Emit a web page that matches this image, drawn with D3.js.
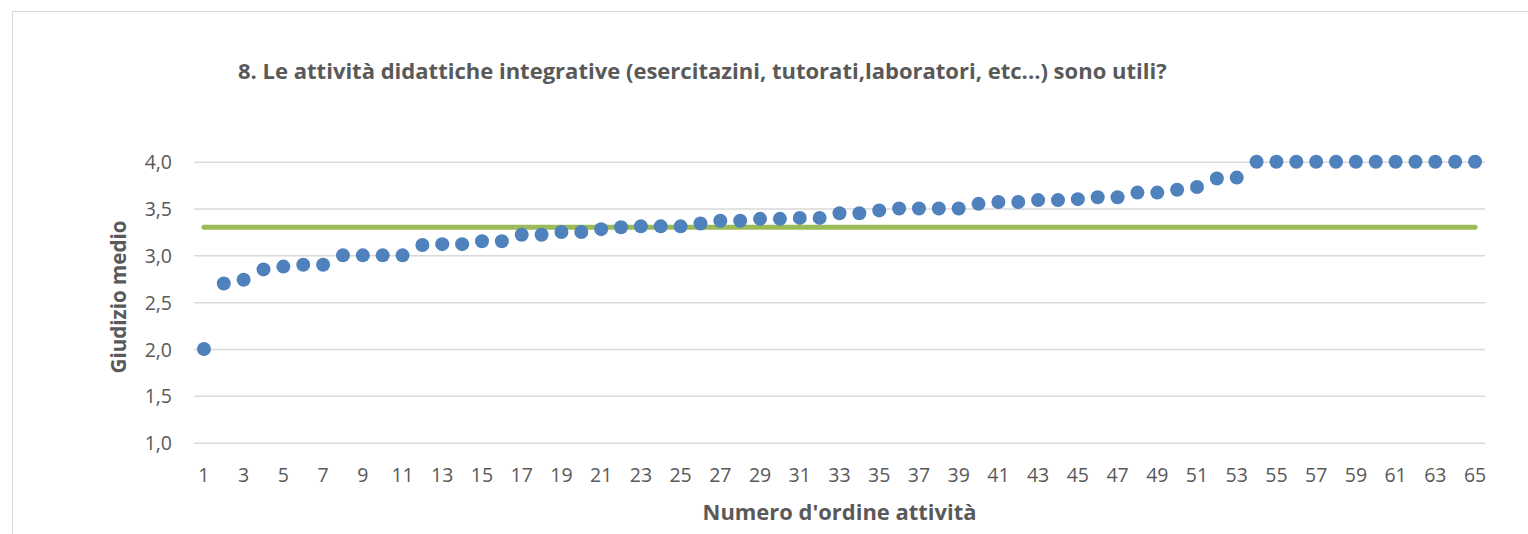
<!DOCTYPE html>
<html>
<head>
<meta charset="utf-8">
<script src="https://cdn.jsdelivr.net/npm/d3@7"></script>
<style>
  html, body { margin: 0; padding: 0; background: #fff; }
  svg { display: block; font-family: "Open Sans", "Noto Sans", sans-serif; }
</style>
</head>
<body>
<div id="chart"></div>
<script>
// numero d'ordine attività 1..65
const activities = d3.range(1, 66);

// giudizio medio per attività
const ratings = [
  2.00, 2.70, 2.74, 2.85, 2.88, 2.90, 2.90, 3.00, 3.00, 3.00,
  3.00, 3.11, 3.12, 3.12, 3.15, 3.15, 3.22, 3.22, 3.25, 3.25,
  3.28, 3.30, 3.31, 3.31, 3.31, 3.34, 3.37, 3.37, 3.39, 3.39,
  3.40, 3.40, 3.45, 3.45, 3.48, 3.50, 3.50, 3.50, 3.50, 3.55,
  3.57, 3.57, 3.59, 3.59, 3.60, 3.62, 3.62, 3.67, 3.67, 3.70,
  3.73, 3.82, 3.83, 4.00, 4.00, 4.00, 4.00, 4.00, 4.00, 4.00,
  4.00, 4.00, 4.00, 4.00, 4.00
];

const averageRating = 3.30;

const yTicks = [1.0, 1.5, 2.0, 2.5, 3.0, 3.5, 4.0];
const xTicks = activities.filter(d => d % 2 === 1);

const titleText = "8. Le attività didattiche integrative (esercitazini, tutorati,laboratori, etc...) sono utili?";
const xTitle = "Numero d'ordine attività";
const yTitle = "Giudizio medio";

const W = 1528, H = 534;
const plot = { left: 194, right: 1485, top: 161.7, bottom: 442.7 };
const textColor = '#595959';
const fontFamily = '"Open Sans", "Noto Sans", sans-serif';

const svg = d3.select('#chart').append('svg')
  .attr('width', W)
  .attr('height', H);

// chart frame
svg.append('rect')
  .attr('x', 12.5).attr('y', 11.5)
  .attr('width', 1700).attr('height', 700)
  .attr('fill', '#fff')
  .attr('stroke', '#D9D9D9')
  .attr('stroke-width', 1);

const x = d3.scaleBand()
  .domain(activities)
  .range([plot.left, plot.right])
  .padding(0);

const y = d3.scaleLinear()
  .domain([1, 4])
  .range([plot.bottom, plot.top]);

const cx = d => x(d) + x.bandwidth() / 2;

// y axis + gridlines
const yAxis = svg.append('g')
  .attr('transform', `translate(${plot.left},0)`)
  .call(d3.axisLeft(y)
    .tickValues(yTicks)
    .tickSize(-(plot.right - plot.left))
    .tickPadding(22)
    .tickFormat(d => d3.format('.1f')(d).replace('.', ',')))
  .attr('font-family', fontFamily)
  .attr('font-size', '19.5px');

yAxis.select('.domain').remove();
yAxis.selectAll('.tick line')
  .attr('stroke', '#D9D9D9')
  .attr('stroke-width', 1.5);
yAxis.selectAll('.tick text')
  .attr('fill', textColor)
  .attr('dy', '0.36em');

// x axis labels
const xAxis = svg.append('g')
  .attr('transform', `translate(0,${plot.bottom})`)
  .call(d3.axisBottom(x)
    .tickValues(xTicks)
    .tickSize(0)
    .tickPadding(25))
  .attr('font-family', fontFamily)
  .attr('font-size', '19.5px');

xAxis.select('.domain').remove();
xAxis.selectAll('.tick text')
  .attr('fill', textColor);

// average line
svg.append('line')
  .attr('x1', cx(activities[0]))
  .attr('x2', cx(activities[activities.length - 1]))
  .attr('y1', y(averageRating))
  .attr('y2', y(averageRating))
  .attr('stroke', '#9BBB59')
  .attr('stroke-width', 5)
  .attr('stroke-linecap', 'round');

// points
svg.append('g')
  .selectAll('circle')
  .data(activities)
  .enter()
  .append('circle')
  .attr('cx', d => cx(d))
  .attr('cy', (d, i) => y(ratings[i]))
  .attr('r', 7)
  .attr('fill', '#4F81BD');

// title, sized to the reference width
const title = svg.append('text')
  .attr('x', 238)
  .attr('y', 79)
  .attr('fill', textColor)
  .attr('font-weight', 'bold')
  .attr('font-size', '19px')
  .text(titleText);
const tw = title.node().getComputedTextLength();
title.attr('font-size', (19 * 929 / tw) + 'px');

// x axis title
const xt = svg.append('text')
  .attr('x', (plot.left + plot.right) / 2)
  .attr('y', 520)
  .attr('text-anchor', 'middle')
  .attr('fill', textColor)
  .attr('font-weight', 'bold')
  .attr('font-size', '19px')
  .text(xTitle);
const xw = xt.node().getComputedTextLength();
xt.attr('font-size', (19 * 274 / xw) + 'px');

// y axis title
const yt = svg.append('text')
  .attr('transform', 'translate(126,297) rotate(-90)')
  .attr('text-anchor', 'middle')
  .attr('fill', textColor)
  .attr('font-weight', 'bold')
  .attr('font-size', '19px')
  .text(yTitle);
const yw = yt.node().getComputedTextLength();
yt.attr('font-size', (19 * 153 / yw) + 'px');
</script>
</body>
</html>
